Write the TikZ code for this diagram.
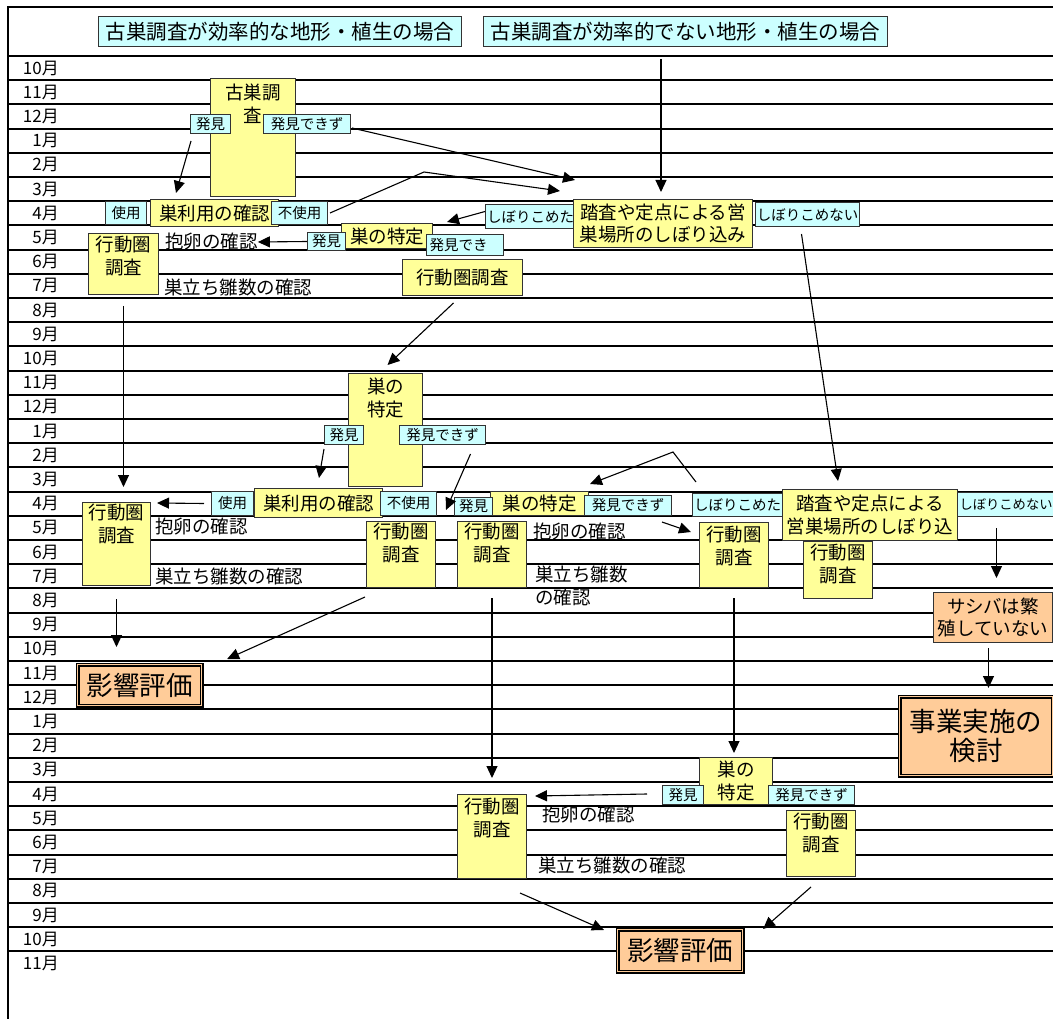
\documentclass[tikz,border=0pt]{standalone}
\usepackage{fontspec}
\setmainfont{Noto Sans CJK JP}
\usepackage{tikz}
\usetikzlibrary{arrows.meta}
\usetikzlibrary{positioning}
\definecolor{yel}{HTML}{FFFF99}
\definecolor{cya}{HTML}{CCFFFF}
\definecolor{ora}{HTML}{FFCC99}
\newcommand\szMon{\fontsize{17}{19}\selectfont}
\newcommand\szTtl{\fontsize{20.5}{22}\selectfont}
\newcommand\szBox{\fontsize{18.5}{22.5}\selectfont}
\newcommand\szTag{\fontsize{14.5}{16}\selectfont}
\newcommand\szBig{\fontsize{26.5}{28.5}\selectfont}

\begin{document}
\begin{tikzpicture}[x=1pt,y=-1pt,
    grid/.style={line width=1.3pt},
    mlab/.style={anchor=east,inner sep=0pt,font=\szMon},
    ybox/.style={draw=black!80,fill=yel,line width=1pt,inner sep=0pt,anchor=north west,align=center,font=\szBox},
    cbox/.style={draw=black!80,fill=cya,line width=1pt,inner sep=0pt,anchor=north west,font=\szTag},
    obox/.style={draw=black!80,fill=ora,line width=1pt,inner sep=0pt,anchor=north west,align=center,font=\szBox},
    dbox/.style={draw=black,fill=ora,double=ora,line width=1.1pt,double distance=1.8pt,inner sep=0pt,anchor=north west,align=center,font=\szBig},
    btxt/.style={inner sep=0pt,align=center,font=\szBox},
    ltxt/.style={inner sep=0pt,anchor=west,align=left,font=\szBox},
    arr/.style={line width=1.1pt,-{Triangle[length=12pt,width=11pt]}}]
    \useasboundingbox (0,0) rectangle (1053,1019);
    \clip (0,0) rectangle (1053,1019);
    \fill[white] (0,0) rectangle (1053,1019);
    % month rows
    \foreach \i in {0,...,37}
      \draw[grid] (8,{round(56+24.2*\i)}) -- (1053,{round(56+24.2*\i)});
    \draw[line width=2.5pt] (8,1019) -- (8,7) -- (1053,7);
    \foreach \m [count=\i from 0] in {10,11,12,1,2,3,4,5,6,7,8,9,10,11,12,1,2,3,4,5,6,7,8,9,10,11,12,1,2,3,4,5,6,7,8,9,10,11}
      \node[mlab] (m\i) at (59,{56+24.2*(\i+0.5)}) {\m 月};
    %
    \node[cbox,font=\szTtl,minimum width=363pt,minimum height=30pt] (t1) at (98,16) {古巣調査が効率的な地形・植生の場合};
    \node[cbox,font=\szTtl,minimum width=404pt,minimum height=30pt] (t2) at (483,16) {古巣調査が効率的でない地形・植生の場合};
    %
    \node[ybox,minimum width=85pt,minimum height=118pt] (kc) at (210,78) {};
    \node[btxt,below=6pt of kc.north] (kcT) {古巣調\\査};
    \node[cbox,minimum width=40pt,minimum height=19pt] (fk1) at (190,114) {発見};
    \node[cbox,minimum width=87pt,minimum height=19pt] (nf1) at (263,114) {発見できず};
    \node[cbox,minimum width=41pt,minimum height=23pt] (su1) at (105,201) {使用};
    \node[ybox,minimum width=128pt,minimum height=27pt] (kr1) at (150,199) {巣利用の確認};
    \node[cbox,minimum width=56pt,minimum height=23pt] (fs1) at (271,201) {不使用};
    \node[ybox,minimum width=91pt,minimum height=25pt] (tk1) at (341,223) {巣の特定};
    \node[cbox,minimum width=38pt,minimum height=18pt] (fk2) at (307,232) {発見};
    \node[cbox,minimum width=77pt,minimum height=21pt,text width=71pt,inner xsep=3pt,align=left] (nf2) at (426,234) {発見でき};
    \node[cbox,minimum width=90pt,minimum height=24pt] (sb1) at (485,204) {しぼりこめた};
    \node[ybox,minimum width=179pt,minimum height=48pt] (ts1) at (573,199) {踏査や定点による営\\巣場所のしぼり込み};
    \node[cbox,minimum width=104pt,minimum height=24pt] (sn1) at (755,202) {しぼりこめない};
    \node[ybox,minimum width=70pt,minimum height=61pt] (hk1) at (88,233) {};
    \node[btxt,below=3pt of hk1.north] (hk1T) {行動圏\\調査};
    \node[ltxt] (ra1) at (165,242) {抱卵の確認};
    \node[ltxt] (sd1) at (164,287) {巣立ち雛数の確認};
    \node[ybox,minimum width=120pt,minimum height=36pt] (hk2) at (402,259) {行動圏調査};
    %
    \node[ybox,minimum width=74pt,minimum height=113pt] (tk2) at (348,373) {};
    \node[btxt,below=5pt of tk2.north] (tk2T) {巣の\\特定};
    \node[cbox,minimum width=39pt,minimum height=19pt] (fk3) at (324,425) {発見};
    \node[cbox,minimum width=86pt,minimum height=19pt] (nf3) at (399,425) {発見できず};
    \node[cbox,minimum width=42pt,minimum height=24pt] (su2) at (211,491) {使用};
    \node[ybox,minimum width=128pt,minimum height=29pt] (kr2) at (254,488) {巣利用の確認};
    \node[cbox,minimum width=56pt,minimum height=24pt] (fs2) at (380,491) {不使用};
    \node[ybox,minimum width=98pt,minimum height=24pt] (tk3) at (490,491) {巣の特定};
    \node[cbox,minimum width=38pt,minimum height=18pt] (fk4) at (454,497) {発見};
    \node[cbox,minimum width=87pt,minimum height=20pt] (nf4) at (584,495) {発見できず};
    \node[cbox,minimum width=90pt,minimum height=23pt] (sb2) at (692,493) {しぼりこめた};
    \node[ybox,minimum width=175pt,minimum height=51pt] (ts2) at (782,489) {踏査や定点による\\営巣場所のしぼり込};
    \node[cbox,font=\fontsize{13.3}{15}\selectfont,minimum width=110pt,minimum height=24pt,text width=106pt,inner xsep=2pt,align=left] (sn2) at (957,492) {しぼりこめない};
    \node[ybox,minimum width=68pt,minimum height=83pt] (hk3) at (82,502) {};
    \node[btxt,below=2pt of hk3.north] (hk3T) {行動圏\\調査};
    \node[ltxt] (ra2) at (155,527) {抱卵の確認};
    \node[ltxt] (sd2) at (155,576) {巣立ち雛数の確認};
    \node[ybox,minimum width=69pt,minimum height=66pt] (hk4) at (366,521) {};
    \node[btxt,below=2pt of hk4.north] (hk4T) {行動圏\\調査};
    \node[ybox,minimum width=69pt,minimum height=66pt] (hk5) at (457,521) {};
    \node[btxt,below=2pt of hk5.north] (hk5T) {行動圏\\調査};
    \node[ltxt] (ra3) at (533,532) {抱卵の確認};
    \node[ltxt,anchor=north west] (sd3) at (535,566) {巣立ち雛数\\の確認};
    \node[ybox,minimum width=69pt,minimum height=65pt] (hk6) at (699,522) {};
    \node[btxt,below=4pt of hk6.north] (hk6T) {行動圏\\調査};
    \node[ybox,minimum width=69pt,minimum height=57pt] (hk7) at (803,541) {};
    \node[btxt,below=3pt of hk7.north] (hk7T) {行動圏\\調査};
    \node[obox,minimum width=119pt,minimum height=50pt] (ss) at (933,592) {サシバは繁\\殖していない};
    \node[dbox,minimum width=153pt,minimum height=79pt] (jj) at (899,696) {事業実施の\\検討};
    \node[dbox,minimum width=124pt,minimum height=41pt] (ek1) at (77,664) {影響評価};
    %
    \node[ybox,minimum width=73pt,minimum height=47pt] (tk4) at (699,757) {巣の\\特定};
    \node[cbox,minimum width=41pt,minimum height=19pt] (fk5) at (662,785) {発見};
    \node[cbox,minimum width=86pt,minimum height=19pt] (nf5) at (768,785) {発見できず};
    \node[ybox,minimum width=69pt,minimum height=84pt] (hk8) at (457,794) {};
    \node[btxt,below=4pt of hk8.north] (hk8T) {行動圏\\調査};
    \node[ltxt] (ra4) at (542,815) {抱卵の確認};
    \node[ltxt] (sd4) at (538,865) {巣立ち雛数の確認};
    \node[ybox,minimum width=69pt,minimum height=66pt] (hk9) at (786,810) {};
    \node[btxt,below=3pt of hk9.north] (hk9T) {行動圏\\調査};
    \node[dbox,minimum width=125pt,minimum height=42pt] (ek2) at (617,929) {影響評価};
    %
    \coordinate (b1) at (424,172);
    \coordinate (b2) at (673,452);
    \draw[arr] ([xshift=1pt,yshift=-7pt]fk1.south west) -- ([xshift=26pt,yshift=6pt]kr1.north west);
    \draw[arr] ([xshift=1pt,yshift=-4pt]nf1.east) -- ([xshift=2pt,yshift=19pt]ts1.north west);
    \draw[arr] ([xshift=2pt]fs1.east) -- (b1) -- ([xshift=-13pt,yshift=8pt]ts1.north west);
    \draw[arr] ([yshift=5pt]sb1.west) -- ([xshift=14pt,yshift=1pt]tk1.north east);
    \draw[arr,shorten <=12pt,shorten >=7pt] ([xshift=-2pt]ts1.north |- t2.south) -- ([xshift=-2pt]ts1.north);
    \draw[arr] ([xshift=-6pt,yshift=-7pt]sn1.south) -- ([xshift=-32pt,yshift=8pt]ts2.north);
    \draw[arr] (fk2.west) -- (ra1.east);
    \draw[arr] ([xshift=-9pt,yshift=-7pt]hk2.south) -- ([xshift=2pt,yshift=8pt]tk2.north);
    \draw[arr,shorten <=11pt,shorten >=15pt] (hk1.south) -- (hk1.south |- hk3.north);
    \draw[arr] ([yshift=-4pt]fk3.south west) -- ([xshift=65pt,yshift=10pt]kr2.north west);
    \draw[arr] ([xshift=28pt,yshift=-9pt]nf3.south) -- ([xshift=-8pt,yshift=6pt]fk4.south west);
    \draw[arr] ([xshift=-7pt]su2.west) -- ([xshift=6pt,yshift=-1pt]hk3.north east);
    \draw[arr] ([xshift=4pt,yshift=11pt]sb2.north west) -- (b2) -- ([xshift=1pt,yshift=7pt]tk3.north east);
    \draw[arr] ([xshift=-10pt,yshift=-6pt]nf4.south east) -- ([xshift=-8pt,yshift=-10pt]hk6.north west);
    \draw[arr,shorten <=11pt,shorten >=14pt] ([xshift=3.5pt]ss.north |- sn2.south) -- ([xshift=3.5pt]ss.north);
    \draw[arr,shorten <=5pt,shorten >=8pt] ([xshift=-4.5pt]ss.south) -- ([xshift=-4.5pt]ss.south |- jj.north);
    \draw[arr,shorten <=13pt,shorten >=17pt] (hk3.south) -- (hk3.south |- ek1.north);
    \draw[arr] ([xshift=-1pt,yshift=-9pt]hk4.south west) -- ([xshift=25pt,yshift=5pt]ek1.north east);
    \draw[arr,shorten <=10pt,shorten >=16pt] (hk5.south) -- (hk8.north);
    \draw[arr,shorten <=10pt,shorten >=4pt] (hk6.south) -- (hk6.south |- tk4.north);
    \draw[arr] ([xshift=-15pt,yshift=1pt]fk5.west) -- ([xshift=8pt,yshift=-2pt]hk8.north east);
    \draw[arr] ([xshift=-7pt,yshift=-14pt]hk8.south east) -- ([xshift=-13pt,yshift=-1pt]ek2.north west);
    \draw[arr] ([xshift=-10pt,yshift=-10pt]hk9.south) -- ([xshift=20pt]ek2.north east);
  \end{tikzpicture}
\end{document}
